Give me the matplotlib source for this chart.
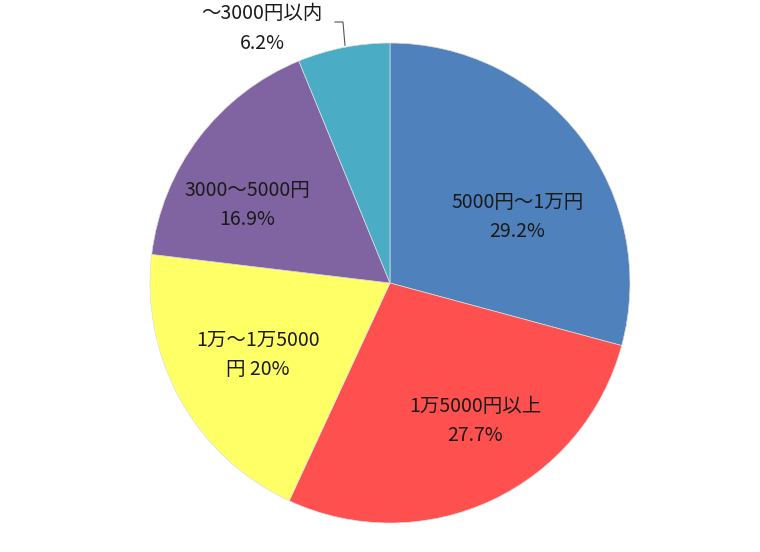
import matplotlib
matplotlib.use("Agg")
import matplotlib.pyplot as plt
import numpy as np

plt.rcParams['font.family'] = ['Noto Sans CJK JP', 'DejaVu Sans']

categories = ["5000円～1万円", "1万5000円以上", "1万～1万5000\n円", "3000～5000円", "～3000円以内"]
values = [29.2, 27.7, 20.0, 16.9, 6.2]
pct_labels = ["29.2%", "27.7%", "20%", "16.9%", "6.2%"]
colors = ["#4F81BD", "#FF5050", "#FFFF66", "#8064A2", "#4BACC6"]

fig = plt.figure(figsize=(7.6, 5.52), dpi=100)
cx, cy = 390 / 760, 1 - 283 / 552
w = 2 * 240 / 760
h = 2 * 240 / 552
ax = fig.add_axes([cx - w / 2, cy - h / 2, w, h])
ax.pie(values, colors=colors, startangle=90, counterclock=False,
       wedgeprops=dict(linewidth=0.5, edgecolor="#dddddd"))
ax.set_xlim(-1, 1)
ax.set_ylim(-1, 1)
ax.set_aspect('equal')
ax.axis('off')

fs = 14
ls = 1.55
# inside labels
pos = [(0.53, 0.275), (0.354, -0.575), (-0.55, -0.30), (-0.596, 0.325)]
texts = [f"{categories[0]}\n{pct_labels[0]}",
         f"{categories[1]}\n{pct_labels[1]}",
         f"{categories[2]} {pct_labels[2]}",
         f"{categories[3]}\n{pct_labels[3]}"]
for (x, y), t in zip(pos, texts):
    ax.text(x, y, t, ha='center', va='center', fontsize=fs, linespacing=ls, color='#1a1a1a')

# outside label for small slice
ax.text(-0.533, 1.06, f"{categories[4]}\n{pct_labels[4]}", ha='center', va='center', fontsize=fs,
        linespacing=ls, color='#1a1a1a', clip_on=False)
ax.plot([-0.229, -0.196, -0.1875], [1.0875, 1.0875, 0.99], color='#555555', linewidth=0.8, clip_on=False)

fig.savefig("out.png", dpi=100)
